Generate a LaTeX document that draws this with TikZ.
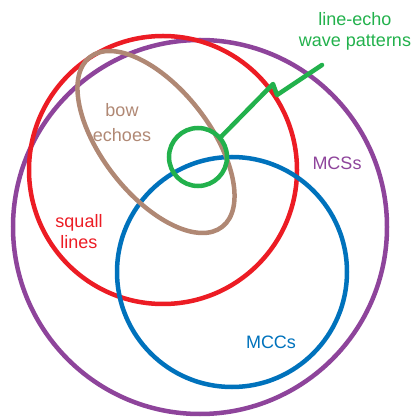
\documentclass[tikz,border=0pt]{standalone}
\usepackage{fontspec}
\setmainfont{Liberation Sans}
\definecolor{mcspurple}{RGB}{142,68,155}
\definecolor{squallred}{RGB}{236,28,36}
\definecolor{mccblue}{RGB}{0,114,188}
\definecolor{bowbrown}{RGB}{176,136,116}
\definecolor{lewgreen}{RGB}{34,177,76}
\tikzset{
  ring/.style={line width=4.5pt},
  lbl/.style={align=center,inner sep=0pt,font=\fontsize{18}{21}\selectfont}
}
\begin{document}
\begin{tikzpicture}[x=1pt,y=-1pt]
\useasboundingbox (0,0) rectangle (420,419);
% circles
\draw[ring,mcspurple] (200,227) circle (187);
\draw[ring,squallred] (163,170) circle (134);
\draw[ring,mccblue] (232,272) circle (115);
\draw[ring,bowbrown,rotate around={-52:(156,142)}] (156,142) ellipse (107.6 and 53.5);
\coordinate (lewc) at (198,157);
\draw[ring,lewgreen] (lewc) circle (29);
\coordinate (lewend) at (322,65);
\draw[ring,lewgreen,line cap=round,line join=round] ([shift={(-41:29)}]lewc) -- (273,84) -- (277,95) -- (lewend);
% labels
\node[lbl,text=lewgreen] (lewlbl) at (355,31) {line-echo\\wave patterns};
\node[lbl,text=bowbrown] (bowlbl) at (122,123) {bow\\[4pt]echoes};
\node[lbl,text=squallred] (squalllbl) at (79,232) {squall\\lines};
\node[lbl,text=mcspurple] (mcslbl) at (337,163) {MCSs};
\node[lbl,text=mccblue] (mcclbl) at (271,342) {MCCs};
\end{tikzpicture}
\end{document}
